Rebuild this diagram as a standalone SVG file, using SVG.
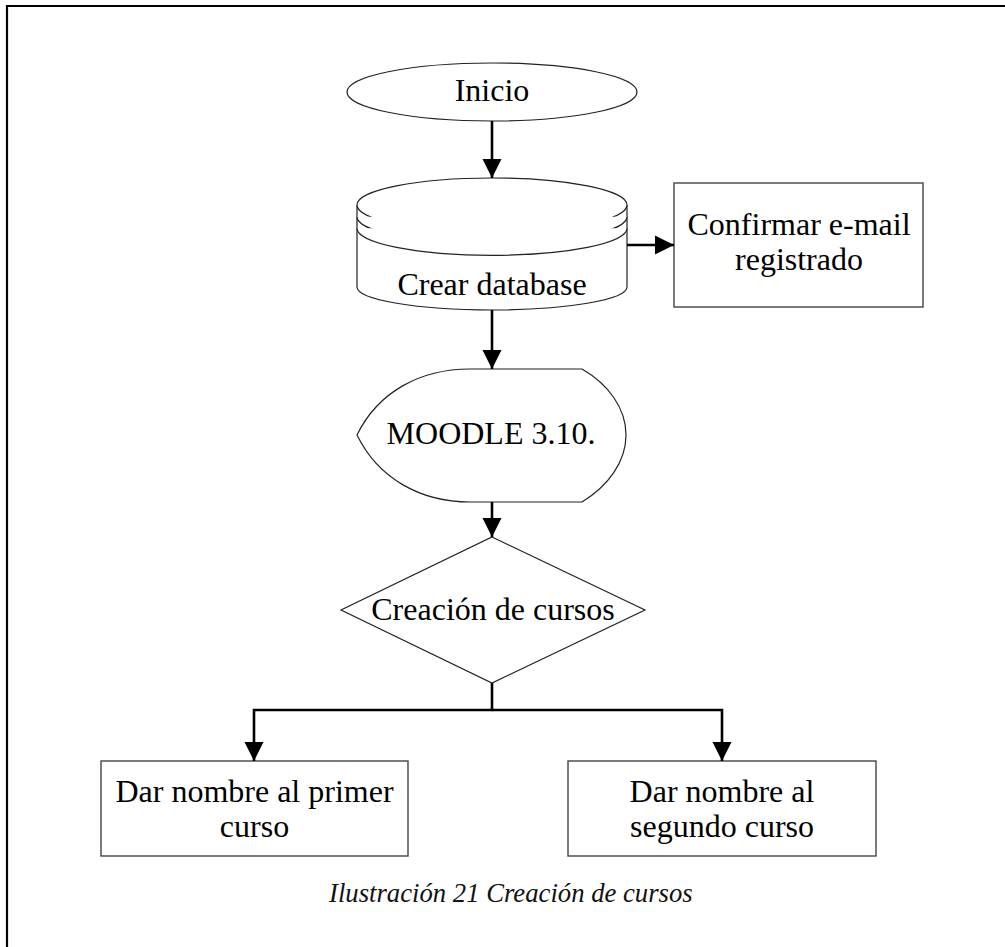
<svg xmlns="http://www.w3.org/2000/svg" width="1005" height="947" viewBox="0 0 1005 947">
<defs>
<marker id="ah" markerUnits="userSpaceOnUse" markerWidth="20" markerHeight="20" refX="19" refY="10" orient="auto">
<path d="M0,0.5 L19,10 L0,19.5 Z" fill="#000"/>
</marker>
<style>
.shape{fill:#fff;stroke:#222;stroke-width:1.2}
.box{fill:#fff;stroke:#444;stroke-width:1.4}
.conn{fill:none;stroke:#000;stroke-width:2.6}
.t{font-family:"Liberation Serif","Times New Roman",serif;font-size:32px;fill:#000;text-anchor:middle}
.cap{font-family:"Liberation Serif","Times New Roman",serif;font-size:26.7px;font-style:italic;fill:#111}
</style>
</defs>
<rect width="1005" height="947" fill="#fff"/>
<path d="M7,947 V6 H1005" fill="none" stroke="#000" stroke-width="2.2"/>

<g id="inicio">
<ellipse class="shape" cx="492" cy="92" rx="145" ry="29"/>
<text class="t" x="492" y="101">Inicio</text>
</g>

<g id="database">
<path class="shape" d="M357,205 V287 A135,23 0 0 0 627,287 V205"/>
<ellipse class="shape" cx="492" cy="205" rx="135" ry="27"/>
<path class="shape" fill="none" d="M357,216.7 A135,27 0 0 0 627,216.7"/>
<path class="shape" fill="none" d="M357,228.3 A135,27 0 0 0 627,228.3"/>
<text class="t" x="492" y="295">Crear database</text>
</g>

<g id="confirmar">
<rect class="box" x="674" y="183" width="249" height="124"/>
<text class="t" x="799" y="235">Confirmar e-mail</text>
<text class="t" x="799" y="270">registrado</text>
</g>

<g id="moodle">
<path class="shape" d="M357,435 C378,392 420,369 470,369 L582,369 C608,384 626,408 626,435 C626,462 608,486 582,502 L470,502 C420,502 378,478 357,435 Z"/>
<text class="t" x="491" y="444">MOODLE 3.10.</text>
</g>

<g id="decision">
<path class="shape" d="M492,537 L645,610 L492,683 L341,610 Z"/>
<text class="t" x="493" y="620">Creación de cursos</text>
</g>

<g id="primer">
<rect class="box" x="101" y="761" width="307" height="95"/>
<text class="t" x="254.5" y="802">Dar nombre al primer</text>
<text class="t" x="254.5" y="837">curso</text>
</g>

<g id="segundo">
<rect class="box" x="568" y="761" width="308" height="95"/>
<text class="t" x="722" y="802">Dar nombre al</text>
<text class="t" x="722" y="837">segundo curso</text>
</g>

<g id="connectors">
<path class="conn" d="M492,121 V178" marker-end="url(#ah)"/>
<path class="conn" d="M627,245 H674" marker-end="url(#ah)"/>
<path class="conn" d="M492,310 V369" marker-end="url(#ah)"/>
<path class="conn" d="M492,502 V537" marker-end="url(#ah)"/>
<path class="conn" d="M492,683 V710 H254 V761" marker-end="url(#ah)"/>
<path class="conn" d="M492,710 H722 V761" marker-end="url(#ah)"/>
</g>

<text class="cap" x="329" y="902">Ilustración 21 Creación de cursos</text>
</svg>
